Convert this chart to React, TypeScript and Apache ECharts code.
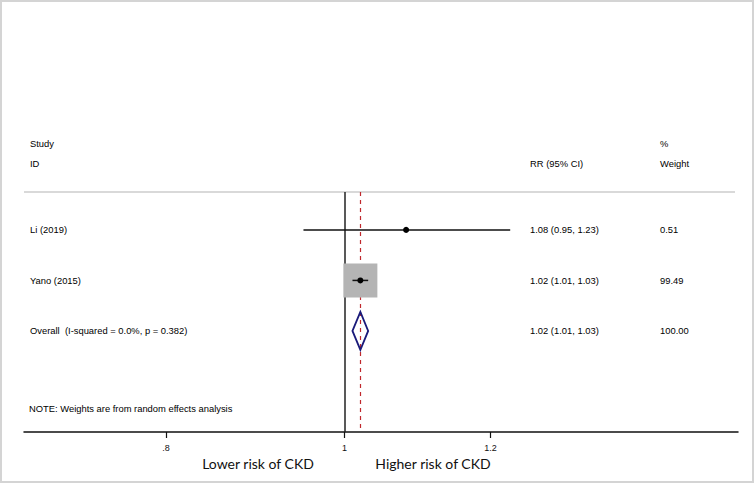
import React, { useEffect, useRef } from "react";
import * as echarts from "echarts";

// ---- data ----
const STUDIES = ["Li (2019)", "Yano (2015)"];
const RR = [1.08, 1.02];
const LOWER = [0.95, 1.01];
const UPPER = [1.23, 1.03];
const WEIGHTS = [0.51, 99.49];
const OVERALL_LABEL = "Overall  (I-squared = 0.0%, p = 0.382)";
const OVERALL = { rr: 1.02, lo: 1.01, hi: 1.03, weight: 100.0 };
const NULL_VALUE = 1;
const TICK_VALUES = [0.8, 1, 1.2];
const TICK_LABELS = [".8", "1", "1.2"];
const AXIS_MIN = 0.67;
const AXIS_MAX = 1.635;

const fmt = (v: number) => v.toFixed(2);
const ciText = (r: number, l: number, u: number) => `${fmt(r)} (${fmt(l)}, ${fmt(u)})`;

const FONT = '9.4px "Liberation Sans", Arial, sans-serif';
const COL_LABEL = 30;
const COL_RR = 530;
const COL_W = 660;
const BOX_MAX = 34;

export default function App() {
  const ref = useRef<HTMLDivElement>(null);
  useEffect(() => {
    if (!ref.current) return;
    const chart = echarts.init(ref.current, null, { renderer: "svg" });
    const maxW = Math.max(...WEIGHTS);
    const studyData = STUDIES.map((s, i) => [
      Math.log(RR[i]),
      Math.log(LOWER[i]),
      Math.log(UPPER[i]),
      i + 0.75,
      WEIGHTS[i],
      i,
    ]);
    const overallData = [[Math.log(OVERALL.rr), Math.log(OVERALL.lo), Math.log(OVERALL.hi), STUDIES.length + 0.75]];

    const txt = (text: string, x: number, y: number, extra: any = {}) => ({
      type: "text",
      style: { text, x, y, fill: "#000", font: FONT, verticalAlign: "middle", align: "left", ...extra },
    });

    const option: any = {
      animation: false,
      backgroundColor: "#fff",
      grid: { left: 24, right: 17, top: 192, bottom: 53 },
      xAxis: {
        type: "value",
        min: Math.log(AXIS_MIN),
        max: Math.log(AXIS_MAX),
        splitLine: { show: false },
        axisLine: { show: true, onZero: false, lineStyle: { color: "#111", width: 1.5 } },
        axisTick: {
          show: true,
          length: 6,
          customValues: TICK_VALUES.map((v) => Math.log(v)),
          lineStyle: { color: "#111", width: 1.2 },
        },
        axisLabel: {
          show: true,
          customValues: TICK_VALUES.map((v) => Math.log(v)),
          formatter: (val: number) => {
            let best = 0;
            TICK_VALUES.forEach((t, k) => {
              if (Math.abs(Math.log(t) - val) < Math.abs(Math.log(TICK_VALUES[best]) - val)) best = k;
            });
            return TICK_LABELS[best];
          },
          color: "#111",
          fontFamily: "Liberation Sans",
          fontSize: 9,
          margin: 11,
        },
      },
      yAxis: { type: "value", inverse: true, min: 0, max: 4.75, show: false },
      series: [
        {
          type: "line",
          silent: true,
          data: [],
          z: 1,
          markLine: {
            silent: true,
            symbol: "none",
            label: { show: false },
            data: [
              { xAxis: Math.log(NULL_VALUE), lineStyle: { color: "#222", width: 1.5, type: "solid" } },
              { xAxis: Math.log(OVERALL.rr), lineStyle: { color: "#c0282d", width: 1.2, type: [4, 4] } },
            ],
          },
        },
        {
          type: "custom",
          silent: true,
          data: studyData,
          encode: { x: [0, 1, 2], y: 3 },
          renderItem: (params: any, api: any) => {
            const est = api.value(0), lo = api.value(1), hi = api.value(2), row = api.value(3), w = api.value(4);
            const idx = api.value(5);
            const pE = api.coord([est, row]);
            const pL = api.coord([lo, row]);
            const pH = api.coord([hi, row]);
            const side = BOX_MAX * Math.sqrt(w / maxW);
            return {
              type: "group",
              children: [
                {
                  type: "rect",
                  shape: { x: pE[0] - side / 2, y: pE[1] - side / 2, width: side, height: side },
                  style: { fill: "#b4b4b4" },
                },
                {
                  type: "line",
                  shape: { x1: pL[0], y1: pL[1], x2: pH[0], y2: pH[1] },
                  style: { stroke: "#111", lineWidth: 1.5 },
                },
                {
                  type: "circle",
                  shape: { cx: pE[0], cy: pE[1], r: 3 },
                  style: { fill: "#000" },
                },
                txt(STUDIES[idx], COL_LABEL, pE[1]),
                txt(ciText(RR[idx], LOWER[idx], UPPER[idx]), COL_RR, pE[1]),
                txt(fmt(WEIGHTS[idx]), COL_W, pE[1]),
              ],
            };
          },
          z: 5,
        },
        {
          type: "custom",
          silent: true,
          data: overallData,
          encode: { x: [0, 1, 2], y: 3 },
          renderItem: (params: any, api: any) => {
            const est = api.value(0), lo = api.value(1), hi = api.value(2), row = api.value(3);
            const pE = api.coord([est, row]);
            const pL = api.coord([lo, row]);
            const pH = api.coord([hi, row]);
            const hh = 19;
            return {
              type: "group",
              children: [
                {
                  type: "polygon",
                  shape: {
                    points: [
                      [pL[0], pE[1]],
                      [pE[0], pE[1] - hh],
                      [pH[0], pE[1]],
                      [pE[0], pE[1] + hh],
                    ],
                  },
                  style: { fill: "none", stroke: "#1a1a7a", lineWidth: 1.8 },
                },
                txt(OVERALL_LABEL, COL_LABEL, pE[1]),
                txt(ciText(OVERALL.rr, OVERALL.lo, OVERALL.hi), COL_RR, pE[1]),
                txt(fmt(OVERALL.weight), COL_W, pE[1]),
              ],
            };
          },
          z: 6,
        },
      ],
      graphic: [
        {
          type: "rect",
          shape: { x: 1, y: 1, width: 752, height: 481 },
          style: { fill: "none", stroke: "#d4d4d4", lineWidth: 2 },
          silent: true,
        },
        {
          type: "line",
          shape: { x1: 24, y1: 192, x2: 735, y2: 192 },
          style: { stroke: "#cccccc", lineWidth: 1.5 },
          silent: true,
        },
        txt("Study", COL_LABEL, 143),
        txt("ID", COL_LABEL, 163),
        txt("RR (95% CI)", COL_RR, 163),
        txt("%", COL_W, 143),
        txt("Weight", COL_W, 163),
        txt("NOTE: Weights are from random effects analysis", 29, 408),
        {
          type: "text",
          style: {
            text: "Lower risk of CKD",
            x: 258,
            y: 463,
            align: "center",
            verticalAlign: "middle",
            fill: "#111",
            font: '14px Lato, "Open Sans", sans-serif',
          },
        },
        {
          type: "text",
          style: {
            text: "Higher risk of CKD",
            x: 433,
            y: 463,
            align: "center",
            verticalAlign: "middle",
            fill: "#111",
            font: '14px Lato, "Open Sans", sans-serif',
          },
        },
      ],
    };
    chart.setOption(option);
    return () => chart.dispose();
  }, []);

  return (
    <div
      ref={ref}
      style={{ position: "fixed", left: 0, top: 0, width: 755, height: 485, background: "#fff" }}
    />
  );
}
